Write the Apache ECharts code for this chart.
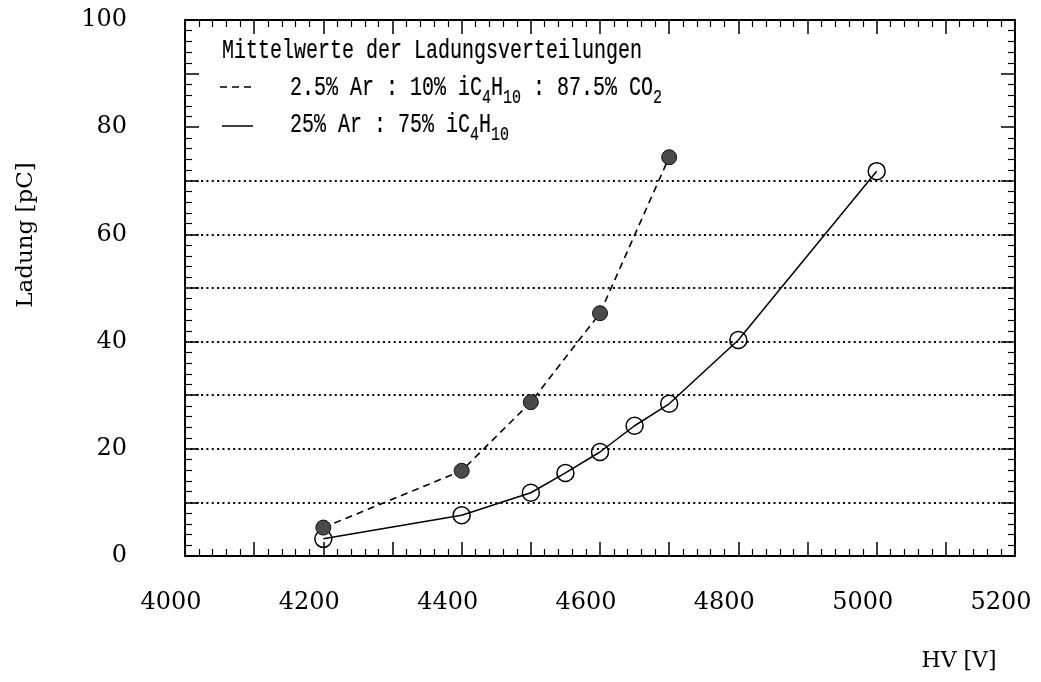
<!DOCTYPE html>
<html>
<head>
<meta charset="utf-8">
<script src="https://cdn.jsdelivr.net/npm/echarts@6/dist/echarts.min.js"></script>
<style>
  html, body { margin: 0; padding: 0; background: #fff; }
  #chart { width: 1041px; height: 682px; }
</style>
</head>
<body>
<div id="chart"></div>
<script>
// Mean charge of the charge distributions vs. high voltage
const hvArCo2 = [4200, 4400, 4500, 4600, 4700];
const chargeArCo2 = [5.3, 15.9, 28.7, 45.3, 74.4];
const hvArIso = [4200, 4400, 4500, 4550, 4600, 4650, 4700, 4800, 5000];
const chargeArIso = [3.2, 7.6, 11.8, 15.5, 19.4, 24.3, 28.4, 40.3, 71.8];
const xTickLabels = [4000, 4200, 4400, 4600, 4800, 5000, 5200];
const yTickLabels = [0, 20, 40, 60, 80, 100];
const gridLevels = [10, 20, 30, 40, 50, 60, 70];

const legendTitle = 'Mittelwerte der Ladungsverteilungen';
const legendDashed = '2.5% Ar : 10% iC{s|4}H{s|10} : 87.5% CO{s|2}';
const legendSolid = '25% Ar : 75% iC{s|4}H{s|10}';

const pairs = (xs, ys) => xs.map((x, i) => [x, ys[i]]);

const numFont = 'DejaVu Serif';
const monoFont = 'Liberation Mono';
const black = '#000';

function frameAxis(extra) {
  return Object.assign({
    type: 'value',
    axisLine: { show: true, onZero: false, lineStyle: { color: black, width: 2 } },
    axisTick: { show: true, inside: true, length: 14, lineStyle: { color: black, width: 1.5 } },
    minorTick: { show: true, splitNumber: 5, length: 7, lineStyle: { color: black, width: 1.2 } },
    splitLine: { show: false },
    minorSplitLine: { show: false },
    axisLabel: { show: false }
  }, extra);
}

// legend lines: typewriter text, stretched vertically
function legendText(x, y, text) {
  return {
    type: 'text', z: 10, x: x, y: y, scaleY: 1.4,
    style: {
      x: 0, y: 0, text: text, fontFamily: monoFont, fontSize: 20, fill: black,
      stroke: black, lineWidth: 0.15, verticalAlign: 'middle',
      rich: { s: { fontFamily: monoFont, fontSize: 15, fill: black, stroke: black, lineWidth: 0.15, padding: [13, 0, 0, 0] } }
    }
  };
}

const chart = echarts.init(document.getElementById('chart'), null, { renderer: 'canvas' });

chart.setOption({
  animation: false,
  backgroundColor: '#fff',
  grid: { left: 185, right: 26, top: 20, bottom: 126, containLabel: false, outerBoundsMode: 'none' },
  xAxis: [
    frameAxis({
      min: 4000, max: 5200, interval: 100, position: 'bottom',
      axisLabel: {
        show: true,
        formatter: v => (xTickLabels.includes(v) ? String(v) : ''),
        fontFamily: numFont, fontSize: 24, color: black,
        margin: 35, padding: [0, 28, 0, 0]
      },
      name: 'HV [V]', nameLocation: 'middle', nameGap: 94, nameMoveOverlap: false,
      nameTextStyle: { fontFamily: numFont, fontSize: 22, color: black, padding: [0, 0, 0, 718] }
    }),
    frameAxis({ min: 4000, max: 5200, interval: 100, position: 'top' })
  ],
  yAxis: [
    frameAxis({
      min: 0, max: 100, interval: 10, position: 'left',
      axisLabel: {
        show: true,
        formatter: v => (yTickLabels.includes(v) ? String(v) : ''),
        fontFamily: numFont, fontSize: 24, color: black, margin: 58
      },
      name: 'Ladung [pC]', nameLocation: 'middle', nameGap: 147, nameRotate: 90, nameMoveOverlap: false,
      nameTextStyle: { fontFamily: numFont, fontSize: 23, color: black, padding: [0, 0, 0, 106] }
    }),
    frameAxis({ min: 0, max: 100, interval: 10, position: 'right' })
  ],
  series: [
    {
      name: 'Ar/iC4H10/CO2',
      type: 'line',
      data: pairs(hvArCo2, chargeArCo2),
      symbol: 'circle',
      symbolSize: 15,
      z: 5,
      lineStyle: { color: black, width: 1.6, type: [7, 5] },
      itemStyle: { color: '#4a4a4a', borderColor: '#111', borderWidth: 1 },
      markLine: {
        silent: true,
        symbol: 'none',
        label: { show: false },
        lineStyle: { color: black, width: 2, type: [2, 3.35] },
        data: gridLevels.map(v => ({ yAxis: v }))
      }
    },
    {
      name: 'Ar/iC4H10',
      type: 'line',
      data: pairs(hvArIso, chargeArIso),
      symbol: 'circle',
      symbolSize: 17,
      z: 4,
      lineStyle: { color: black, width: 1.5 },
      itemStyle: { color: 'rgba(255,255,255,0)', borderColor: black, borderWidth: 1.5 }
    }
  ],
  graphic: [
    legendText(222, 51, legendTitle),
    {
      type: 'line', z: 10,
      shape: { x1: 220, y1: 87, x2: 253, y2: 87 },
      style: { stroke: black, lineWidth: 1.5, lineDash: [7, 5] }
    },
    legendText(290, 88, legendDashed),
    {
      type: 'line', z: 10,
      shape: { x1: 222, y1: 126, x2: 253, y2: 126 },
      style: { stroke: black, lineWidth: 1.5 }
    },
    legendText(290, 125, legendSolid)
  ]
});
</script>
</body>
</html>
